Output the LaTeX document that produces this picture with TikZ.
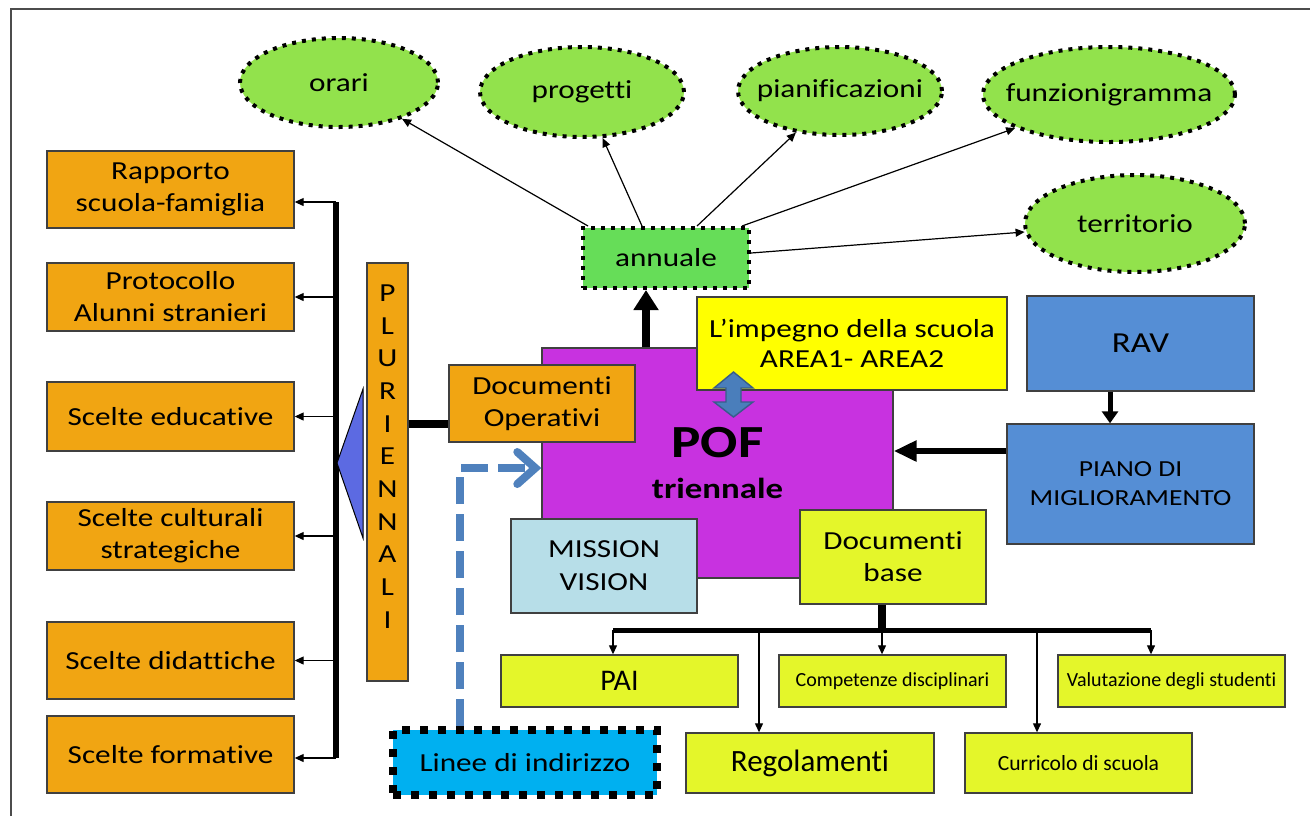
\documentclass[tikz,border=0pt]{standalone}
\usepackage{fontspec}
\setmainfont{Carlito}[FakeStretch=1.2,Ligatures=NoCommon]
\newfontfamily\Plain{Carlito}[Ligatures=NoCommon]
\usepackage{xcolor}
\definecolor{ColOrange}{RGB}{241,165,18}
\definecolor{ColOval}{RGB}{146,226,76}
\definecolor{ColAnn}{RGB}{102,221,88}
\definecolor{ColPof}{RGB}{200,50,224}
\definecolor{ColYellow}{RGB}{255,255,0}
\definecolor{ColLime}{RGB}{228,246,42}
\definecolor{ColRav}{RGB}{85,142,213}
\definecolor{ColMission}{RGB}{183,222,232}
\definecolor{ColCyan}{RGB}{0,176,240}
\definecolor{ColTri}{RGB}{92,106,226}
\definecolor{ColDbl}{RGB}{74,126,187}
\definecolor{ColDblB}{RGB}{56,93,138}
\definecolor{ColDash}{RGB}{79,129,189}
\usepackage{tikz}
\usetikzlibrary{shapes.geometric}
\usetikzlibrary{arrows.meta}
\newcommand{\Std}{\fontsize{13}{16}\selectfont}
\newcommand{\NoWd}[1]{\makebox[0pt]{#1}}
\tikzstyle{Box}=[rectangle,draw=black!75,line width=.7pt,inner sep=1pt,
align=center,font=\Std]
\tikzstyle{Orange}=[Box,fill=ColOrange]
\tikzstyle{Lime}=[Box,fill=ColLime]
\tikzstyle{Oval}=[ellipse,draw=black,fill=ColOval,line width=2pt,
dash pattern=on 2pt off 3pt,inner sep=0pt,font=\Std]
\tikzstyle{Edge}=[draw=black,line width=.6pt,-{Triangle[length=4.5pt,width=4pt]}]
\tikzstyle{Heavy}=[draw=black,line width=3pt]
\tikzstyle{Dash}=[draw=ColDash,line width=4pt,dash pattern=on 13.5pt off 5pt,
-{Straight Barb[length=9pt,width=16pt,line cap=round]}]

\begin{document}
\begin{tikzpicture}[x=.5pt,y=-.5pt]
            \useasboundingbox(0,0)rectangle(1310,816);
            \draw[black!70,line width=.7pt](11,816)--(11,9)--(1310,9);
            \node[Oval,minimum width=99pt,minimum height=44.5pt](orari)at(339,82.5)
                {\NoWd{orari}};
            \node[Oval,minimum width=102pt,minimum height=45pt](progetti)at(582,92)
                {\NoWd{progetti}};
            \node[Oval,minimum width=102pt,minimum height=44pt](pianif)at(840,91)
                {\NoWd{pianificazioni}};
            \node[Oval,minimum width=126pt,minimum height=47.5pt](funzion)at(1109,94.5)
                {\NoWd{funzionigramma}};
            \node[Oval,minimum width=110pt,minimum height=48.5pt](territ)at(1135,223.5)
                {\NoWd{territorio}};
            \node[Box,fill=ColAnn,draw=black,line width=2pt,dash pattern=on 2pt off 3pt,
                minimum width=83pt,minimum height=30pt](annuale)at(666,258){annuale};
            \draw[Edge]([xshift=3.5pt]annuale.north west)--(orari);
            \draw[Edge]([xshift=30.5pt]annuale.north west)--(progetti);
            \draw[Edge]([xshift=58pt]annuale.north west)--(pianif);
            \draw[Edge]([xshift=-4.5pt]annuale.north east)--(funzion);
            \draw[Edge]([yshift=2.5pt]annuale.east)--(territ);
            \node[Orange,minimum width=123.5pt,minimum height=38.5pt](rapporto)at(170.5,189.5)
                {Rapporto\\scuola-famiglia};
            \node[Orange,minimum width=123.5pt,minimum height=34pt](protocollo)at(170.5,297)
                {Protocollo\\Alunni stranieri};
            \node[Orange,minimum width=123.5pt,minimum height=34.5pt](educative)at(170.5,416.5)
                {Scelte educative};
            \node[Orange,minimum width=123.5pt,minimum height=34pt](culturali)at(170.5,536)
                {Scelte culturali\\strategiche};
            \node[Orange,minimum width=123.5pt,minimum height=38.5pt](didattiche)at(170.5,660.5)
                {Scelte didattiche};
            \node[Orange,minimum width=123.5pt,minimum height=38.5pt](formative)at(170.5,754.5)
                {Scelte formative};
            \coordinate(bt)at(336,202);
            \coordinate(bb)at(336,758);
            \draw[Heavy](bt)--(bb);
            \draw[Edge](bt)--(rapporto.east|-bt);
            \draw[Edge](bt|-protocollo.east)--(protocollo.east);
            \draw[Edge](bt|-educative.east)--(educative.east);
            \draw[Edge](bt|-culturali.east)--(culturali.east);
            \draw[Edge](bt|-didattiche.east)--(didattiche.east);
            \draw[Edge](bb)--(formative.east|-bb);
            \draw[fill=ColTri,draw=black,line width=.5pt](337,463)--(363,389)--(363,538)--cycle;
            \node[Orange,minimum width=20.5pt,minimum height=209pt](pluri)at(387.5,472){};
            \node[font=\fontsize{13}{16.35}\selectfont,align=center,inner sep=0pt](plurit)
                at(387.5,456.5){P\\L\\U\\R\\I\\E\\N\\N\\A\\L\\I};
            \node[Box,fill=ColPof,minimum width=175.5pt,minimum height=115pt,
                font=\bfseries\fontsize{14.5}{20.5}\selectfont](pof)at(717.5,463)
                {{\fontsize{23}{23}\selectfont POF}\\triennale};
            \node[Orange,minimum width=93pt,minimum height=38.5pt](docop)at(542,403.5)
                {Documenti\\Operativi};
            \coordinate(jo)at(430,424);
            \draw[Heavy,line width=4pt](pluri.east|-jo)--(docop.west|-jo);
            \coordinate(ax)at(646,300);
            \draw[Heavy,line width=4pt,-{Triangle[width=12pt,length=10pt]}]
                (pof.north-|ax)--(annuale.south-|ax);
            \node[Box,fill=ColYellow,minimum width=155pt,minimum height=46.5pt,
                font=\fontsize{13}{15}\selectfont](impegno)at(852,343.5)
                {L’impegno della scuola\\AREA1- AREA2};
            \draw[fill=ColDbl,draw=ColDblB,line width=.7pt](733.5,372)--(753,388)--(741,388)
                --(741,402)--(753,402)--(733.5,417)--(714,402)--(726,402)--(726,388)
                --(714,388)--cycle;
            \node[Box,fill=ColRav,minimum width=113.5pt,minimum height=47.5pt,
                font=\fontsize{14.5}{17}\selectfont](rav)at(1140.5,343.5){RAV};
            \node[Box,fill=ColRav,minimum width=123.5pt,minimum height=60pt,
                font=\fontsize{11.5}{14.5}\selectfont](piano)at(1130.5,484)
                {PIANO DI\\MIGLIORAMENTO};
            \coordinate(rx)at(1110,400);
            \draw[Heavy,line width=2.5pt,-{Triangle[width=8pt,length=6pt]}]
                (rav.south-|rx)--(piano.north-|rx);
            \coordinate(py)at(950,451);
            \draw[Heavy,-{Triangle[width=10pt,length=11.5pt]}](piano.west|-py)--(pof.east|-py);
            \node[Box,fill=ColMission,minimum width=93pt,minimum height=47pt,
                font=\fontsize{13}{16.5}\selectfont](mission)at(604,566){MISSION\\VISION};
            \node[Lime,minimum width=93pt,minimum height=47pt](docbase)at(893,557)
                {Documenti\\base};
            \node[Lime,minimum width=118.5pt,minimum height=26pt,
                font=\Plain\fontsize{15}{18}\selectfont](pai)at(619.5,681){PAI};
            \node[Lime,minimum width=124pt,minimum height=30pt,
                font=\Plain\fontsize{15.5}{18}\selectfont](regol)at(810,763){Regolamenti};
            \node[Lime,minimum width=113.5pt,minimum height=26pt,
                font=\Plain\fontsize{10}{12}\selectfont](compet)at(892.5,681)
                {Competenze disciplinari};
            \node[Lime,minimum width=113.5pt,minimum height=30pt,
                font=\Plain\fontsize{10.8}{12}\selectfont](curric)at(1078.5,763)
                {Curricolo di scuola};
            \node[Lime,minimum width=113.5pt,minimum height=26pt,
                font=\Plain\fontsize{10}{12}\selectfont](valut)at(1171.5,681)
                {Valutazione degli studenti};
            \coordinate(tb)at(882,630);
            \coordinate(tl)at(613,630);
            \coordinate(tr)at(1151,630);
            \coordinate(r1)at(759,630);
            \coordinate(r2)at(1037,630);
            \draw[Heavy,line width=4pt](docbase.south-|tb)--(tb);
            \draw[Heavy,line width=2.5pt](tl)--(tr);
            \draw[Edge](tl)--(tl|-pai.north);
            \draw[Edge](r1)--(r1|-regol.north);
            \draw[Edge](tb)--(tb|-compet.north);
            \draw[Edge](r2)--(r2|-curric.north);
            \draw[Edge](tr)--(tr|-valut.north);
            \node[Box,fill=ColCyan,draw=black,line width=4pt,dash pattern=on 4pt off 5pt,
                minimum width=132pt,minimum height=32.5pt](linee)at(525,762.5)
                {Linee di indirizzo};
            \coordinate(dk)at(460,468);
            \draw[Dash](linee.north-|dk)--(dk)--(dk-|pof.west);
        \end{tikzpicture}
\end{document}
